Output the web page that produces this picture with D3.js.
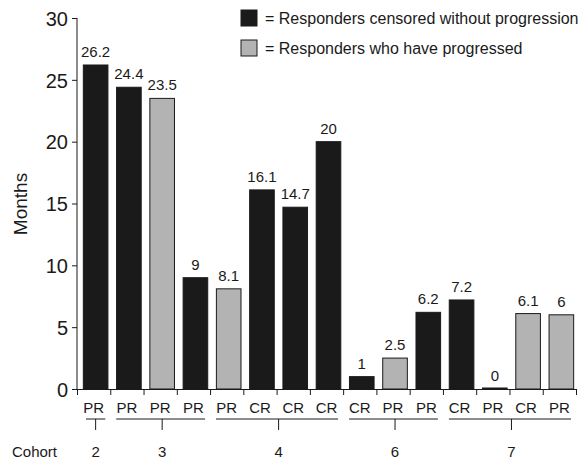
<!DOCTYPE html>
<html>
<head>
<meta charset="utf-8">
<script src="https://cdn.jsdelivr.net/npm/d3@7"></script>
<style>
	body { margin: 0; background: #fff; }
	text { font-family: "Liberation Sans", Arial, Helvetica, sans-serif; fill: #1a1a1a; }
</style>
</head>
<body>
<div id="chart"></div>
<script>
// response type under each bar
const responses = ['PR','PR','PR','PR','PR','CR','CR','CR','CR','PR','PR','CR','PR','CR','PR'];
// months
const months = [26.2, 24.4, 23.5, 9, 8.1, 16.1, 14.7, 20, 1, 2.5, 6.2, 7.2, 0, 6.1, 6];
// c = censored without progression, p = have progressed
const status = ['c','c','p','c','p','c','c','c','c','p','c','c','p','p','p'];
const cohorts = [2, 3, 3, 3, 4, 4, 4, 4, 6, 6, 6, 7, 7, 7, 7];
const yTicks = [0, 5, 10, 15, 20, 25, 30];
const legendLabels = ['= Responders censored without progression', '= Responders who have progressed'];

const colors = { c: '#1a1a1a', p: '#b3b3b3' };

const w = 585, h = 460;
const margin = { left: 77, right: 9, top: 18, bottom: 71 };

const svg = d3.select('#chart').append('svg')
	.attr('width', w)
	.attr('height', h);

const idx = d3.range(months.length);

const x0 = margin.left, x1 = w - margin.right;

//One band per bar, boundaries are the axis ticks
const xb = d3.scaleLinear().domain([0, months.length]).range([x0, x1]);
const bandW = xb(1) - xb(0);

const y = d3.scaleLinear()
	.domain([0, 30])
	.range([h - margin.bottom, margin.top]);

//Bars
svg.selectAll('.bar')
	.data(idx)
	.enter()
	.append('rect')
	.attr('class', 'bar')
	.attr('x', i => xb(i) + bandW * 0.19)
	.attr('width', bandW * 0.74)
	.attr('y', i => Math.min(y(months[i]), y(0) - 1))
	.attr('height', i => Math.max(1, y(0) - y(months[i])))
	.style('fill', i => colors[status[i]])
	.style('stroke', '#1a1a1a')
	.style('stroke-width', '1px');

//Value labels
svg.selectAll('.val')
	.data(idx)
	.enter()
	.append('text')
	.attr('class', 'val')
	.attr('x', i => xb(i) + bandW * 0.56)
	.attr('y', i => y(months[i]) - 8)
	.attr('text-anchor', 'middle')
	.style('font-size', '15px')
	.text(i => months[i]);

//Y axis
const yAxis = d3.axisLeft(y).tickValues(yTicks).tickSize(5).tickPadding(4);
const gy = svg.append('g')
	.attr('transform', `translate(${x0},0)`)
	.call(yAxis);
gy.select('.domain').attr('stroke', '#1a1a1a').attr('d', `M0,${y(0)}V${y(30)}`);
gy.selectAll('.tick line').attr('stroke', '#1a1a1a');
gy.selectAll('.tick text').style('font-size', '20px').attr('dy', '0.36em');

//X axis line with ticks at band boundaries
const xAxis = d3.axisBottom(xb).tickValues(d3.range(months.length + 1))
	.tickSize(6).tickSizeOuter(0).tickFormat('');
const gx = svg.append('g')
	.attr('transform', `translate(0,${y(0)})`)
	.call(xAxis);
gx.select('.domain').attr('stroke', '#1a1a1a');
gx.selectAll('.tick line').attr('stroke', '#1a1a1a');

//Response labels
svg.selectAll('.resp')
	.data(idx)
	.enter()
	.append('text')
	.attr('class', 'resp')
	.attr('x', i => xb(i) + bandW * 0.5)
	.attr('y', 413)
	.attr('text-anchor', 'middle')
	.style('font-size', '15px')
	.text(i => responses[i]);

//Cohort brackets
const groups = d3.groups(idx, i => cohorts[i]).map(([c, list]) => ({
	cohort: c, first: d3.min(list), last: d3.max(list)
}));

const gg = svg.selectAll('.cohort')
	.data(groups)
	.enter()
	.append('g')
	.attr('class', 'cohort');

const mid = d => (xb(d.first) + xb(d.last + 1)) / 2 + 2;

gg.append('line')
	.attr('x1', d => xb(d.first) + (d.first === d.last ? 9 : 6))
	.attr('x2', d => xb(d.last + 1) - 5)
	.attr('y1', 419).attr('y2', 419)
	.style('stroke', '#1a1a1a');

gg.append('line')
	.attr('x1', mid)
	.attr('x2', mid)
	.attr('y1', 419).attr('y2', 430)
	.style('stroke', '#1a1a1a');

gg.append('text')
	.attr('x', mid)
	.attr('y', 457)
	.attr('text-anchor', 'middle')
	.style('font-size', '15px')
	.text(d => d.cohort);

svg.append('text')
	.attr('x', 12)
	.attr('y', 457)
	.style('font-size', '15px')
	.text('Cohort');

//Y title
svg.append('text')
	.attr('transform', `translate(27,204) rotate(-90)`)
	.attr('text-anchor', 'middle')
	.style('font-size', '19px')
	.text('Months');

//Legend
const legend = svg.selectAll('.legend')
	.data(legendLabels)
	.enter()
	.append('g')
	.attr('class', 'legend')
	.attr('transform', (d, i) => `translate(241,${10 + i * 30})`);

legend.append('rect')
	.attr('width', 16)
	.attr('height', 16)
	.style('fill', (d, i) => i === 0 ? colors.c : colors.p)
	.style('stroke', '#1a1a1a');

legend.append('text')
	.attr('x', 24)
	.attr('y', 14)
	.style('font-size', '16px')
	.text(d => d);
</script>
</body>
</html>
